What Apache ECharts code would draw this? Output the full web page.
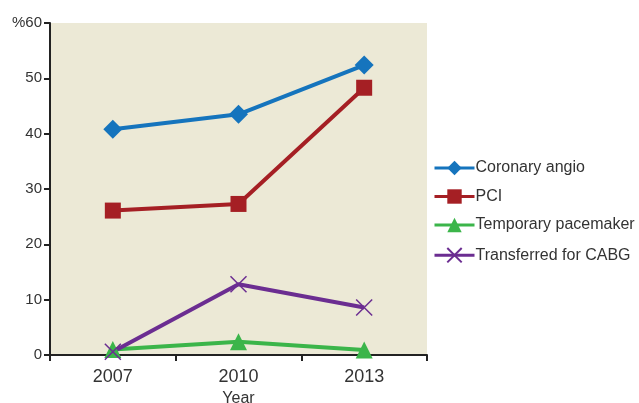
<!DOCTYPE html>
<html>
<head>
<meta charset="utf-8">
<script src="https://cdn.jsdelivr.net/npm/echarts@6/dist/echarts.min.js"></script>
<style>
  html, body { margin: 0; padding: 0; background: #fff; }
  #chart { width: 639px; height: 403px; }
</style>
</head>
<body>
<div id="chart"></div>
<script>
const years = ['2007', '2010', '2013'];
const coronaryAngio = [40.8, 43.5, 52.4];
const pci = [26.1, 27.3, 48.3];
const tempPacemaker = [1.0, 2.4, 0.9];
const transferredCabg = [0.6, 12.8, 8.6];

const font = '"Liberation Sans Narrow", "Liberation Sans", sans-serif';
const textColor = '#333';

const makeLine = (name, data, color, symbol, size) => ({
  name,
  type: 'line',
  data,
  symbol,
  symbolSize: size,
  showSymbol: true,
  lineStyle: { color, width: 4 },
  itemStyle: { color, borderWidth: 0 },
  emphasis: { disabled: true },
  animation: false,
});

const crossPath = 'path://M0,0 L10,10 M10,0 L0,10';

const chart = echarts.init(document.getElementById('chart'), null, { renderer: 'canvas' });
chart.setOption({
  animation: false,
  grid: {
    left: 50, top: 23, right: 212, bottom: 48,
    outerBoundsMode: 'none', containLabel: false,
    show: true, backgroundColor: '#ece9d6', borderWidth: 0,
  },
  legend: {
    orient: 'vertical',
    left: 428,
    top: 155,
    itemWidth: 40,
    itemHeight: 18,
    itemGap: 12.5,
    lineStyle: { width: 3 },
    textStyle: { fontFamily: font, fontSize: 16, color: textColor, padding: [0, 0, 0, -4] },
    data: ['Coronary angio', 'PCI', 'Temporary pacemaker', 'Transferred for CABG'],
  },
  xAxis: {
    type: 'category',
    data: years,
    boundaryGap: true,
    name: 'Year',
    nameLocation: 'middle',
    nameGap: 35,
    nameTextStyle: { fontFamily: font, fontSize: 16, color: textColor },
    axisLine: { lineStyle: { color: '#222', width: 2 } },
    axisTick: { show: true, length: 6, lineStyle: { color: '#222', width: 2 }, alignWithLabel: false },
    axisLabel: { fontFamily: font, fontSize: 18, color: textColor, margin: 13 },
  },
  yAxis: {
    type: 'value',
    min: 0,
    max: 60,
    interval: 10,
    splitLine: { show: false },
    axisLine: { show: true, lineStyle: { color: '#222', width: 2 } },
    axisTick: { show: true, length: 6, lineStyle: { color: '#222', width: 2 } },
    axisLabel: {
      fontFamily: font, fontSize: 15, color: textColor, margin: 8,
      formatter: (v) => (v === 60 ? '%60' : String(v)),
    },
  },
  series: [
    makeLine('Coronary angio', coronaryAngio, '#1574bd', 'diamond', 19),
    makeLine('PCI', pci, '#a51f24', 'rect', 16),
    makeLine('Temporary pacemaker', tempPacemaker, '#3bb54a', 'triangle', 17),
    {
      ...makeLine('Transferred for CABG', transferredCabg, '#6b2d91', crossPath, 16),
      itemStyle: { color: 'none', borderColor: '#6b2d91', borderWidth: 1.5 },
    },
  ],
});
</script>
</body>
</html>
